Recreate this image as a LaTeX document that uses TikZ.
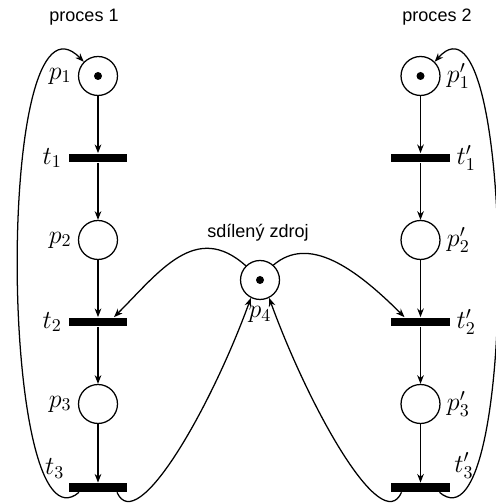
\documentclass[tikz,border=0pt]{standalone}
\usepackage{fontspec}
\setsansfont{Liberation Sans}
\usetikzlibrary{positioning, arrows.meta, calc}
\tikzset{
  place/.style  = {draw, circle, minimum size=7.6mm, inner sep=0pt, line width=0.7pt},
  marked/.style = {path picture={\fill (path picture bounding box.center) circle[radius=0.78mm];}},
  trans/.style  = {fill=black, rectangle, minimum width=11.5mm, minimum height=1.75mm, inner sep=0pt},
  flow/.style   = {-{Stealth[length=1.7mm, width=1.3mm]}, line width=0.7pt},
  lbl/.style    = {font=\Large},
  txt/.style    = {font=\sffamily},
}

\begin{document}
\begin{tikzpicture}[x=0.0195cm, y=0.0195cm]
  \useasboundingbox (0,0) rectangle (495,504);
  % proces 1
  \node[txt] (title1) at (84,487) {proces 1};
  \node[place, marked, label={[lbl]left:$p_1$}] (p1) at (98,428) {};
  \node[trans, label={[lbl]left:$t_1$}] (t1) at (98,346) {};
  \node[place, label={[lbl]left:$p_2$}] (p2) at (98,264) {};
  \node[trans, label={[lbl]left:$t_2$}] (t2) at (98,182) {};
  \node[place, label={[lbl]left:$p_3$}] (p3) at (98,100) {};
  \node[trans] (t3) at (98,16.5) {};
  \node[lbl, above left=0pt and 0pt of t3.north west, inner sep=2pt] (t3lbl) {$t_3$};
  % proces 2
  \node[txt] (title2) at (437,487) {proces 2};
  \node[place, marked, label={[lbl]right:$p'_1$}] (p1r) at (420.5,428) {};
  \node[trans, label={[lbl]right:$t'_1$}] (t1r) at (420.5,346) {};
  \node[place, label={[lbl]right:$p'_2$}] (p2r) at (420.5,264) {};
  \node[trans, label={[lbl]right:$t'_2$}] (t2r) at (420.5,182) {};
  \node[place, label={[lbl]right:$p'_3$}] (p3r) at (420.5,100) {};
  \node[trans] (t3r) at (420.5,16.5) {};
  \node[lbl, above right=0pt and 0pt of t3r.north east, inner sep=2pt] (t3rlbl) {$t'_3$};
  % shared resource
  \node[place, marked, label={[lbl]below:$p_4$}] (p4) at (260,224) {};
  \node[txt] (share) at (258,271) {sdílený zdroj};

  \foreach \a/\b in {p1/t1, t1/p2, p2/t2, t2/p3, p3/t3} {
    \draw[flow] (\a) -- (\b);
    \draw[flow] (\a r) -- (\b r);
  }
  \draw[flow] ($(t3.south)+(-19,0)$) .. controls +(-80,-68) and +(-90,92) .. (p1.135);
  \draw[flow] ($(t3r.south)+(19,0)$) .. controls +(80,-68) and +(82,92) .. (p1r.45);
  \draw[flow] (p4.135) .. controls +(-50,45) and +(45,45) .. ($(t2.north)+(16,0)$);
  \draw[flow] (p4.48) .. controls +(35,30) and +(-50,50) .. ($(t2r.north)+(-16,0)$);
  \draw[flow] ($(t3.south)+(19,0)$) .. controls +(20,-45) and +(-40,-110) .. (p4.243);
  \draw[flow] ($(t3r.south)+(-19,0)$) .. controls +(-20,-45) and +(40,-110) .. (p4.297);
\end{tikzpicture}
\end{document}
